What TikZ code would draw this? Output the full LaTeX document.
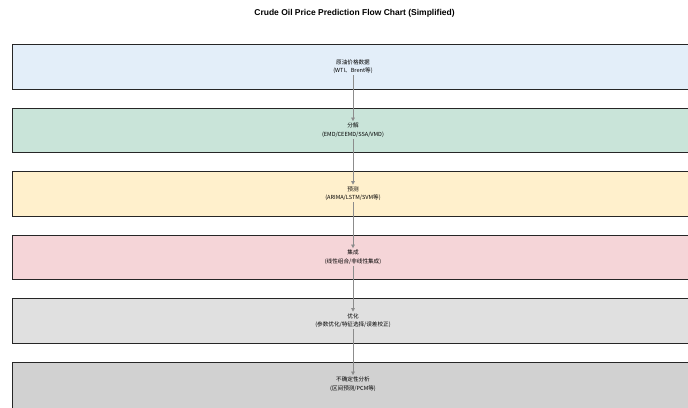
\documentclass[tikz,border=0pt]{standalone}
\usepackage{fontspec}
\setmainfont{Liberation Sans}
\newfontfamily\cjkfont{Noto Sans CJK SC}
\usetikzlibrary{arrows.meta}

\definecolor{datafill}{HTML}{E3EEF9}
\definecolor{decompfill}{HTML}{C9E4D9}
\definecolor{predfill}{HTML}{FFF0CC}
\definecolor{ensfill}{HTML}{F5D5D8}
\definecolor{optfill}{HTML}{E0E0E0}
\definecolor{uncfill}{HTML}{D1D1D1}

\tikzset{
    stagebox/.style={draw=black!85, line width=0.7pt},
    stagetext/.style={font=\cjkfont\fontsize{5.6}{8.5}\selectfont, align=center, inner sep=1.5pt},
    flowarrow/.style={draw=black!45, line width=0.7pt, -{Triangle[length=3.5pt,width=3.5pt]}}
}

\begin{document}
\begin{tikzpicture}[x=1pt, y=-1pt]
    \useasboundingbox (0, 0) rectangle (688, 407);
    \clip (0, 0) rectangle (688, 407);
    \node[font=\bfseries\fontsize{8.5}{10}\selectfont] (title) at (354.5, 13)
	{Crude Oil Price Prediction Flow Chart (Simplified)};
    \draw[stagebox, fill=datafill] (12, 44) rectangle (694, 89);
    \draw[stagebox, fill=decompfill] (12, 108) rectangle (694, 152);
    \draw[stagebox, fill=predfill] (12, 171) rectangle (694, 216);
    \draw[stagebox, fill=ensfill] (12, 235) rectangle (694, 279);
    \draw[stagebox, fill=optfill] (12, 298) rectangle (694, 343);
    \draw[stagebox, fill=uncfill] (12, 362) rectangle (694, 410);
    \node[stagetext] (data) at (353, 66.5) {原油价格数据\\(WTI、Brent等)};
    \node[stagetext] (decomp) at (353, 130) {分解\\(EMD/CEEMD/SSA/VMD)};
    \node[stagetext] (pred) at (353, 193.5) {预测\\(ARIMA/LSTM/SVM等)};
    \node[stagetext] (ens) at (353, 257) {集成\\(线性组合/非线性集成)};
    \node[stagetext] (opt) at (353, 320.5) {优化\\(参数优化/特征选择/误差校正)};
    \node[stagetext] (unc) at (353, 384) {不确定性分析\\(区间预测/PCM等)};
    \draw[flowarrow] (data) -- (decomp);
    \draw[flowarrow] (decomp) -- (pred);
    \draw[flowarrow] (pred) -- (ens);
    \draw[flowarrow] (ens) -- (opt);
    \draw[flowarrow] (opt) -- (unc);
\end{tikzpicture}
\end{document}
